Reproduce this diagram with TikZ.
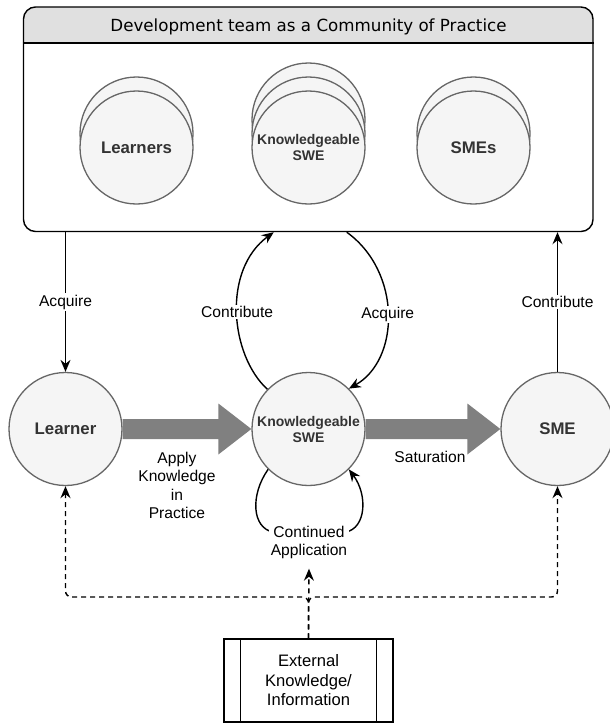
\documentclass[tikz,border=0pt]{standalone}
\usepackage{fontspec}
\setmainfont{Liberation Sans}
\newfontfamily\titlefont{DejaVu Sans}
\usepackage{xcolor}
\usetikzlibrary{arrows.meta,calc}

\definecolor{circfill}{HTML}{F5F5F5}
\definecolor{circline}{HTML}{666666}
\definecolor{circtext}{HTML}{333333}
\definecolor{hdrfill}{HTML}{E0E0E0}
\definecolor{flowgray}{HTML}{808080}

\tikzset{
  member/.style={circle, draw=circline, fill=circfill, line width=1.3pt, minimum size=113pt,
    inner sep=0pt, text=circtext, align=center, font=\fontsize{16.8}{19}\selectfont\bfseries},
  smallmember/.style={member, font=\fontsize{14}{16}\selectfont\bfseries},
  conn/.style={-{Stealth[length=12pt,width=10pt,inset=4pt]}, line width=1.4pt},
  dashconn/.style={conn, dash pattern=on 5pt off 4pt, rounded corners=6pt},
  lbl/.style={fill=white, inner sep=1.5pt, align=center, font=\fontsize{15.6}{18.5}\selectfont},
}

% thick grey block arrow from one circle to the next
\newcommand{\bigflow}[2]{%
  \fill[flowgray] ($(#1.east)+(0,-10)$) -- ($(#2.west)+(-33,-10)$) -- ($(#2.west)+(-33,-25.5)$)
    -- (#2.west) -- ($(#2.west)+(-33,25.5)$) -- ($(#2.west)+(-33,10)$) -- ($(#1.east)+(0,10)$) -- cycle;}

\begin{document}
\begin{tikzpicture}[x=1pt,y=-1pt]
  \useasboundingbox[fill=white] (0,0) rectangle (610,724);

  % community of practice box
  \coordinate (hdr) at (0,43);
  \fill[hdrfill,rounded corners=12pt] (23.5,43) -- (23.5,7) -- (593,7) -- (593,43);
  \node[draw, line width=1.4pt, rounded corners=12pt, minimum width=569.5pt, minimum height=224.5pt,
    inner sep=0pt] (cop) at (308.25,119.25) {};
  \draw[line width=1.4pt] (cop.west |- hdr) -- (cop.east |- hdr);
  \node[font=\titlefont\fontsize{16.7}{20}\selectfont] (title) at (308.5,26.5)
    {Development team as a Community of Practice};

  % members of the community
  \node[member] (learners-b) at (136.5,133.5) {};
  \node[member] (learners) at (136.5,147.5) {Learners};
  \node[member] (kswes-c) at (308.5,119.5) {};
  \node[member] (kswes-b) at (308.5,133.5) {};
  \node[smallmember] (kswes) at (308.5,147.5) {Knowledgeable\\SWE};
  \node[member] (smes-b) at (473.5,133.5) {};
  \node[member] (smes) at (473.5,147.5) {SMEs};

  % stages
  \node[member] (learner) at (65.5,429) {Learner};
  \node[smallmember] (kswe) at (308.5,429) {Knowledgeable\\SWE};
  \node[member] (sme) at (557.5,429) {SME};

  \bigflow{learner}{kswe}
  \bigflow{kswe}{sme}
  \node[lbl, fill=none] (apply) at (177,485.5) {Apply\\Knowledge\\in\\Practice};
  \node[lbl, fill=none] (satur) at (430,457) {Saturation};

  \draw[conn] (learner |- cop.south) -- node[lbl] {Acquire} (learner.north);
  \draw[conn] (sme.north) -- node[lbl] {Contribute} (sme |- cop.south);
  \draw[conn] (kswe.136) .. controls (230,355) and (222,270) .. node[lbl] {Contribute}
    ([xshift=-34.5pt]cop.south);
  \draw[conn] ([xshift=38.5pt]cop.south) .. controls (402,272) and (400,360) .. node[lbl] {Acquire}
    (kswe.45);

  % loop below the knowledgeable SWE
  \draw[conn] (kswe.225) .. controls (250,495) and (252,528) .. (273,532) -- (346,532)
    .. controls (366,528) and (368,495) .. (kswe.315);
  \node[lbl] (contapp) at (309,542.5) {Continued\\Application};

  % external knowledge
  \node[draw, line width=1.3pt, minimum width=169pt, minimum height=83pt, inner sep=0pt, align=center,
    font=\fontsize{16.6}{19.5}\selectfont] (ext) at (308.5,680.5) {External\\Knowledge/\\Information};
  \draw[line width=1.3pt] ([xshift=17pt]ext.north west) -- ([xshift=17pt]ext.south west);
  \draw[line width=1.3pt] ([xshift=-17pt]ext.north east) -- ([xshift=-17pt]ext.south east);

  \coordinate (jn) at (308.5,597);
  \draw[dashconn] (ext.north) -- (jn) -- (jn -| learner) -- (learner.south);
  \draw[dashconn] (ext.north) -- (jn) -- (jn -| sme) -- (sme.south);
  \draw[dashconn] (ext.north) -- ([yshift=-8pt]contapp.south);
\end{tikzpicture}
\end{document}
